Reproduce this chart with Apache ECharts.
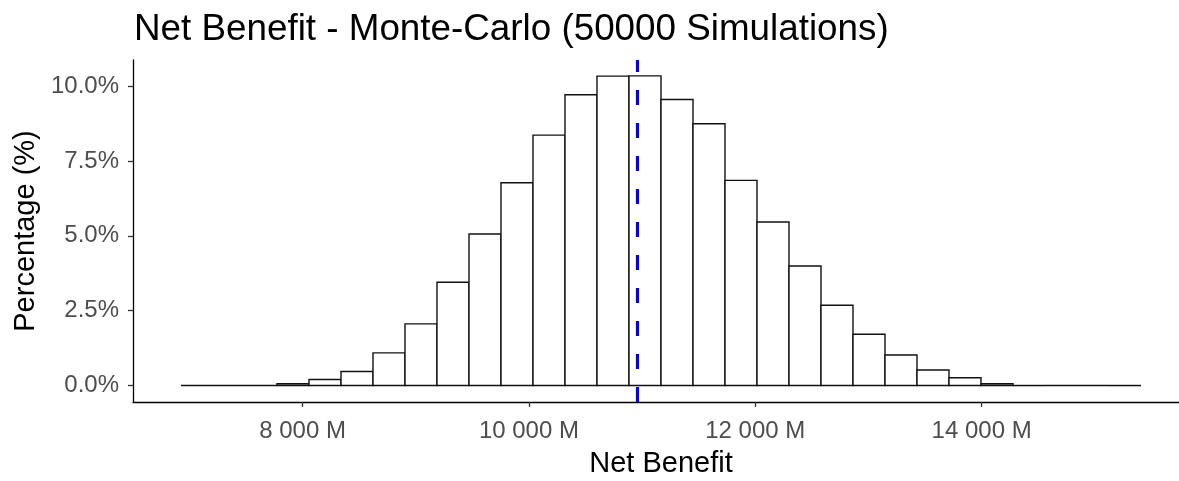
<!DOCTYPE html>
<html>
<head>
<meta charset="utf-8">
<script src="https://cdn.jsdelivr.net/npm/echarts@6/dist/echarts.min.js"></script>
<style>
html,body{margin:0;padding:0;background:#fff;}
#chart{width:1179px;height:481px;}
</style>
</head>
<body>
<div id="chart"></div>
<script>
// Histogram bin edges (millions)
const binEdges = [6926.0, 7208.7, 7491.5, 7774.2, 8056.9, 8339.7, 8622.4, 8905.1, 9187.8, 9470.6,
  9753.3, 10036.0, 10318.8, 10601.5, 10884.2, 11167.0, 11449.7, 11732.4, 12015.1, 12297.9,
  12580.6, 12863.3, 13146.1, 13428.8, 13711.5, 13994.3, 14277.0, 14559.7, 14842.4, 15125.2, 15407.9];
// Percentage of simulations per bin
const percentages = [0, 0, 0, 0.06, 0.20, 0.47, 1.09, 2.06, 3.45, 5.06,
  6.77, 8.36, 9.71, 10.33, 10.34, 9.55, 8.74, 6.85, 5.46, 3.99,
  2.68, 1.71, 1.02, 0.52, 0.26, 0.06, 0, 0, 0, 0];
const meanValue = [10955];
const xTicks = [8000, 10000, 12000, 14000];
const yTicks = [0, 2.5, 5, 7.5, 10];
const titleText = 'Net Benefit - Monte-Carlo (50000 Simulations)';
const xTitle = 'Net Benefit';
const yTitle = 'Percentage (%)';

const histData = percentages.map((p, i) => [binEdges[i], binEdges[i + 1], p]);

const FONT = "'Liberation Sans', Arial, sans-serif";
const chart = echarts.init(document.getElementById('chart'), null, {renderer: 'canvas'});

function fmtM(v) {
  return Math.round(v).toString().replace(/\B(?=(\d{3})+(?!\d))/g, ' ') + ' M';
}

chart.setOption({
  backgroundColor: '#ffffff',
  animation: false,
  title: {
    text: titleText,
    left: 134,
    top: 11,
    padding: 0,
    textStyle: {fontFamily: FONT, fontSize: 36.8, fontWeight: 'normal', color: '#000'}
  },
  grid: {left: 133, top: 60, width: 1056, height: 342, containLabel: false, outerBoundsMode: 'none'},
  xAxis: {
    type: 'value',
    min: 6502,
    max: 15832,
    name: xTitle,
    nameLocation: 'middle',
    nameGap: 47,
    nameTextStyle: {fontFamily: FONT, fontSize: 29, color: '#000'},
    axisLine: {show: true, onZero: false, lineStyle: {color: '#000', width: 1.3}},
    axisTick: {show: true, length: 5, customValues: xTicks, lineStyle: {color: '#333', width: 1.3}},
    axisLabel: {customValues: xTicks, margin: 17, formatter: fmtM,
      fontFamily: FONT, fontSize: 24, color: '#4d4d4d'},
    splitLine: {show: false}
  },
  yAxis: {
    type: 'value',
    min: -0.55,
    max: 10.87,
    name: yTitle,
    nameLocation: 'middle',
    nameRotate: 90,
    nameGap: 92,
    nameTextStyle: {fontFamily: FONT, fontSize: 29, color: '#000'},
    axisLine: {show: true, onZero: false, lineStyle: {color: '#000', width: 1.3}},
    axisTick: {show: true, length: 5, customValues: yTicks, lineStyle: {color: '#333', width: 1.3}},
    axisLabel: {customValues: yTicks, margin: 14, formatter: v => v.toFixed(1) + '%',
      fontFamily: FONT, fontSize: 24, color: '#4d4d4d'},
    splitLine: {show: false}
  },
  series: [{
    type: 'custom',
    data: histData,
    encode: {x: [0, 1], y: 2},
    renderItem: function (params, api) {
      const p0 = api.coord([api.value(0), api.value(2)]);
      const p1 = api.coord([api.value(1), 0]);
      if (api.value(2) === 0) {
        return {type: 'line', shape: {x1: p0[0], y1: p1[1], x2: p1[0], y2: p1[1]},
          style: {stroke: '#111', lineWidth: 1.5}};
      }
      return {
        type: 'rect',
        shape: {x: p0[0], y: p0[1], width: p1[0] - p0[0], height: p1[1] - p0[1]},
        style: {fill: '#fff', stroke: '#111', lineWidth: 1.4}
      };
    },
    markLine: {
      silent: true,
      symbol: 'none',
      label: {show: false},
      lineStyle: {color: '#0808b8', width: 3.2, type: [15, 18]},
      data: meanValue.map(v => ({xAxis: v}))
    }
  }]
});
</script>
</body>
</html>
